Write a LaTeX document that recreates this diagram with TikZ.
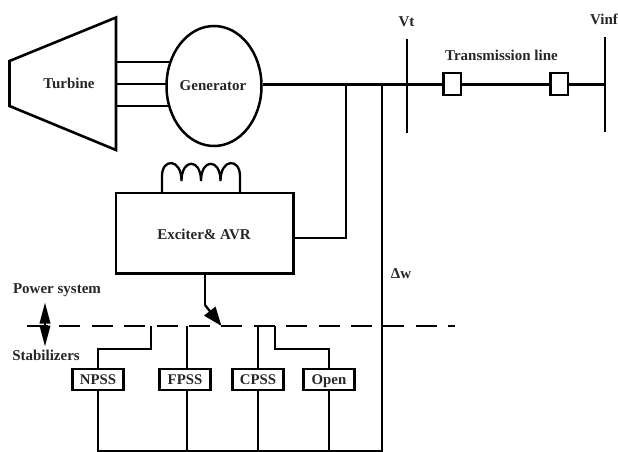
\documentclass[tikz,border=0pt]{standalone}
\usepackage{fontspec}
\setmainfont{Liberation Serif}
\usetikzlibrary{arrows.meta,calc,shapes.geometric}
\tikzset{
  wire/.style={line width=2.3pt,black},
  thick wire/.style={line width=2.6pt,black},
  lbl/.style={font=\fontsize{15}{17}\selectfont\bfseries,text=black!85,inner sep=0pt},
  pss/.style={draw=black,line width=2.7pt,minimum width=51.5pt,minimum height=20.8pt,inner sep=0pt,text height=9.8pt,text depth=0pt,font=\fontsize{14.8}{16}\selectfont\bfseries,text=black!85},
  breaker/.style={draw=black,line width=2.5pt,minimum width=17.5pt,minimum height=21.7pt,inner sep=0pt},
  dashline/.style={line width=2.8pt,dash pattern=on 21pt off 11.4pt},
}
\begin{document}
\begin{tikzpicture}[x=1pt,y=-1pt]
\useasboundingbox (0,0) rectangle (618,452);
% turbine and generator
\node[draw,line width=2.5pt,ellipse,minimum width=95pt,minimum height=120pt,inner sep=0pt] (gen) at (214,86) {};
\draw[thick wire,line join=miter] (9.5,61) coordinate (t1) -- (116,17.5) coordinate (t2) -- (116,150) coordinate (t3) -- (9.5,106) coordinate (t4) -- cycle;
\node[lbl] (turbinelabel) at (69,83) {Turbine};
\node[lbl] (genlabel) at (213,86) {Generator};
\coordinate (s1) at (116,62); \coordinate (s2) at (116,84); \coordinate (s3) at (116,106);
\coordinate (g1) at (170,62); \coordinate (g2) at (166,84); \coordinate (g3) at (170,106);
\draw[thick wire] (s1) -- (g1); \draw[thick wire] (s2) -- (g2); \draw[thick wire] (s3) -- (g3);
% buses
\coordinate (vt1) at (407,39); \coordinate (vt2) at (407,133);
\coordinate (vi1) at (605,37); \coordinate (vi2) at (605,132);
\draw[thick wire] (vt1) -- (vt2);
\draw[thick wire] (vi1) -- (vi2);
\node[lbl] (vtlabel) at (406.5,22) {Vt};
\node[lbl] (vinflabel) at (604,19.5) {Vinf};
\node[lbl] (tllabel) at (501.5,55) {Transmission line};
\node[breaker] (b1) at (452,84) {};
\node[breaker] (b2) at (559,84) {};
\coordinate (busvt) at (407,84.4); \coordinate (busvi) at (605,84.4);
\coordinate (j1) at (346,84.4); \coordinate (j2) at (382,84.4);
\draw[wire] (gen.east |- busvt) -- (busvt) -- (b1.west |- busvt);
\draw[wire] (b1.east |- busvt) -- (b2.west |- busvt);
\draw[wire] (b2.east |- busvt) -- (busvi);
% exciter
\node[draw,line width=2.3pt,minimum width=177.5pt,minimum height=80.3pt,inner sep=0pt] (exc) at (204.8,233.2) {};
\node[lbl] (exclabel) at (204,234) {Exciter\& AVR};
\draw[wire] (162,193) coordinate (c0) -- (162,176)
  .. controls (162,158) and (181.5,158) .. (181.5,181)
  .. controls (181.5,158) and (201,158) .. (201,181)
  .. controls (201,158) and (220.5,158) .. (220.5,181)
  .. controls (220.5,158) and (240,158) .. (240,176) -- (240,193) coordinate (c1);
\coordinate (e1) at (293,238);
\draw[wire] (e1) -| (j1);
% switch
\coordinate (sw0) at (205,273); \coordinate (sw1) at (205,305); \coordinate (sw2) at (221.5,326);
\draw[wire] (sw0) -- (sw1);
\draw[wire,-{Triangle[length=19pt,width=14pt]}] (sw1) -- (sw2);
% dashed
\coordinate (d0) at (27,326); \coordinate (d1) at (455,326);
\draw[dashline] (d0) -- (d1);
% pss
\node[pss] (npss) at (98,379.5) {NPSS};
\node[pss] (fpss) at (185,379.5) {FPSS};
\node[pss] (cpss) at (258,379.5) {CPSS};
\node[pss] (open) at (329,379.5) {Open};
\coordinate (n0) at (151,326); \coordinate (n1) at (151,349);
\coordinate (f0) at (187,326); \coordinate (c2) at (258,326);
\coordinate (o0) at (275,326); \coordinate (o1) at (275,349);
\draw[wire] (n0) -- (n1) -| (npss.north);
\draw[wire] (f0) -- (f0 |- fpss.north);
\draw[wire] (c2) -- (cpss.north);
\draw[wire] (o0) -- (o1) -| (open.north);
\coordinate (bb1) at (98,451); \coordinate (bb2) at (187,451); \coordinate (bb3) at (258,451); \coordinate (bb4) at (329,451); \coordinate (bb5) at (382,451);
\draw[wire] (npss.south) -- (bb1);
\draw[wire] (bb2 |- fpss.south) -- (bb2);
\draw[wire] (cpss.south) -- (bb3);
\draw[wire] (open.south) -- (bb4);
\draw[wire,line cap=rect] (bb1) -- (bb5) -- (j2);
% labels
\node[lbl] (dw) at (401,274) {Δw};
\node[lbl] (pslabel) at (57,290) {Power system};
\node[lbl] (stlabel) at (46,355) {Stabilizers};
\coordinate (a0) at (45,302.5); \coordinate (a1) at (45,346.5);
\draw[line width=2pt,{Triangle[length=21pt,width=10.5pt]}-{Triangle[length=21pt,width=10.5pt]}] (a0) -- (a1);
\end{tikzpicture}
\end{document}
